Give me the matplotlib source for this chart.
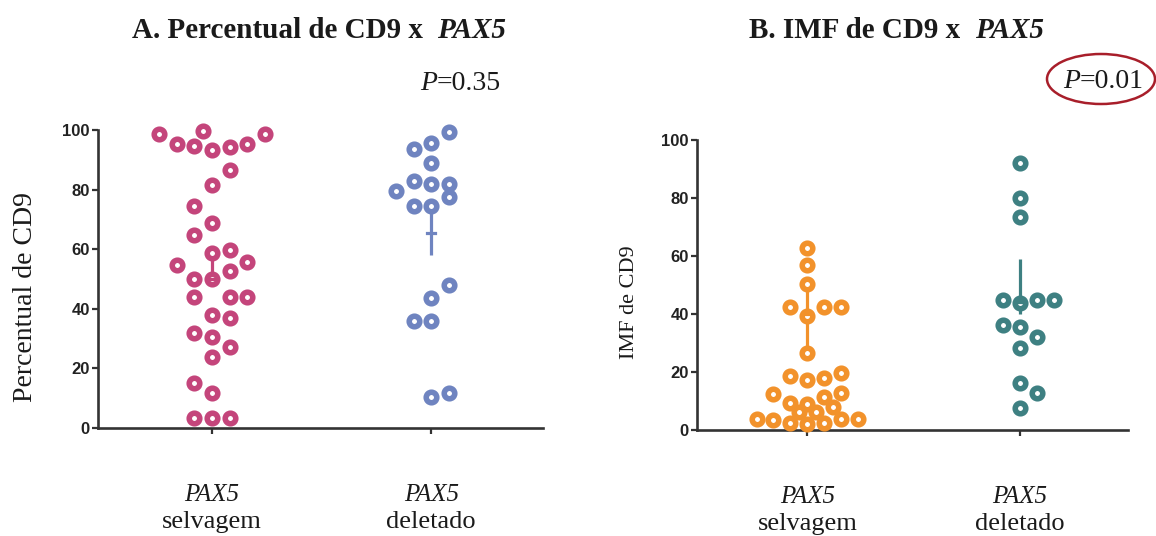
import matplotlib
matplotlib.use("Agg")
import matplotlib.pyplot as plt
from matplotlib.patches import Ellipse

# panel A: percentual de CD9 (value, swarm slot)
pct_wild = [98.7, 99.5, 98.7, 95.3, 94.6, 93.3, 94.4, 95.3, 86.6, 81.5, 74.6, 68.8,
            64.8, 58.8, 59.7, 54.7, 55.8, 52.8, 49.9, 49.9, 43.9, 43.9, 43.9, 37.9,
            36.8, 32.0, 30.6, 23.9, 27.1, 15.2, 11.8, 3.2, 3.2, 3.2]
pct_wild_slot = [-3, -0.5, 3, -2, -1, 0, 1, 2, 1, 0, -1, 0,
                 -1, 0, 1, -2, 2, 1, -1, 0, -1, 1, 2, 0,
                 1, -1, 0, 0, 1, -1, 0, -1, 0, 1]
pct_del = [99.4, 93.5, 95.5, 88.8, 82.9, 81.9, 81.9, 79.6, 77.4, 74.5, 74.5,
           48.0, 43.7, 36.0, 36.0, 10.3, 11.8]
pct_del_slot = [1, -1, 0, 0, -1, 0, 1, -2, 1, -1, 0, 1, 0, -1, 0, 0, 1]

# panel B: IMF de CD9
imf_wild = [62.6, 56.9, 50.3, 42.5, 42.5, 42.5, 39.3, 26.4, 18.6, 17.2, 17.8, 19.5,
            12.4, 12.9, 11.5, 9.2, 9.0, 8.0, 6.3, 6.3, 3.7, 3.4, 2.3, 2.1, 2.3, 3.7, 3.7]
imf_wild_slot = [0, 0, 0, -1, 1, 2, 0, 0, -1, 0, 1, 2,
                 -2, 2, 1, -1, 0, 1.5, -0.5, 0.5, -3, -2, -1, 0, 1, 2, 3]
imf_del = [92.0, 79.9, 73.3, 44.8, 43.7, 44.8, 44.8, 36.2, 35.6, 32.2, 28.2, 16.1, 12.9, 7.5]
imf_del_slot = [0, 0, 0, -1, 0, 1, 2, -1, 0, 1, 0, 0, 1, 0]

# summary bars (centre, low, high)
bar_a = [(50, 48, 59), (65.5, 58, 75)]
bar_b = [(40, 26, 50), (44, 40, 59)]

groups = ["selvagem", "deletado"]
p_a = "0.35"
p_b = "0.01"

pink, blue = "#C4457B", "#6F84C0"
orange, teal = "#F2922B", "#3E8082"
axis_col = "#333333"
txt_col = "#1a1a1a"
step = 0.08

fig = plt.figure(figsize=(11.56, 5.36), dpi=100)
serif = "Liberation Serif"


def draw_panel(ax, series, bars, colors, ylabel, ylabel_size):
    for i, ((vals, slots), (c, lo, hi), col) in enumerate(zip(series, bars, colors)):
        ax.plot([i, i], [lo, hi], color=col, lw=2.3, zorder=2, solid_capstyle="butt")
        ax.plot([i - 0.018, i + 0.018], [c, c], color=col, lw=2.3, zorder=4)
        xs = [i + s * step for s in slots]
        ax.plot(xs, vals, "o", ms=7.6, mew=4.0, mec=col, mfc="white",
                ls="none", zorder=3, clip_on=False)
    ax.set_xlim(-0.52, 1.51)
    ax.set_ylim(0, 100)
    ax.set_yticks(range(0, 101, 20))
    ax.set_xticks([0, 1])
    ax.set_xticklabels([])
    for s in ("top", "right"):
        ax.spines[s].set_visible(False)
    for s in ("left", "bottom"):
        ax.spines[s].set_linewidth(1.9)
        ax.spines[s].set_color(axis_col)
    ax.tick_params(axis="y", length=4.5, width=1.6, color=axis_col, pad=1.5,
                   labelsize=12, labelcolor="#222222")
    ax.tick_params(axis="x", length=4, width=1.6, color=axis_col)
    for lab in ax.get_yticklabels():
        lab.set_fontfamily("Liberation Sans")
        lab.set_fontweight("bold")
    ax.set_ylabel(ylabel, family=serif, fontsize=ylabel_size, color=txt_col)
    ax.yaxis.set_label_coords(-0.135, 0.44)
    for i, g in enumerate(groups):
        ax.annotate("PAX5", xy=(i, 0), xytext=(0, -48), textcoords="offset points",
                    ha="center", va="center", family=serif, style="italic",
                    fontsize=18, color=txt_col)
        ax.annotate(g, xy=(i, 0), xytext=(0, -68), textcoords="offset points",
                    ha="center", va="center", family=serif, fontsize=19, color=txt_col)


ax1 = fig.add_axes([0.0848, 0.2015, 0.385, 0.556])
draw_panel(ax1, [(pct_wild, pct_wild_slot), (pct_del, pct_del_slot)], bar_a,
           [pink, blue], "Percentual de CD9", 20)

ax2 = fig.add_axes([0.603, 0.1978, 0.3728, 0.541])
draw_panel(ax2, [(imf_wild, imf_wild_slot), (imf_del, imf_del_slot)], bar_b,
           [orange, teal], "IMF de CD9", 16)

fig.text(437 / 1156, 1 - 30 / 536, "A. Percentual de CD9 x  ", ha="right", va="center",
         family=serif, weight="bold", fontsize=21, color=txt_col)
fig.text(437 / 1156, 1 - 30 / 536, "PAX5", ha="left", va="center",
         family=serif, weight="bold", style="italic", fontsize=21, color=txt_col)

fig.text(975 / 1156, 1 - 30 / 536, "B. IMF de CD9 x  ", ha="right", va="center",
         family=serif, weight="bold", fontsize=21, color=txt_col)
fig.text(975 / 1156, 1 - 30 / 536, "PAX5", ha="left", va="center",
         family=serif, weight="bold", style="italic", fontsize=21, color=txt_col)

for xs_, yc, p in [(437, 83, p_a), (1080, 81, p_b)]:
    fig.text(xs_ / 1156, 1 - yc / 536, "P", ha="right", va="center",
             family=serif, style="italic", fontsize=20, color=txt_col)
    fig.text(xs_ / 1156, 1 - yc / 536, "=" + p, ha="left", va="center",
             family=serif, fontsize=20, color=txt_col)

fig.patches.append(Ellipse((1101 / 1156, 1 - 79 / 536), 108 / 1156, 50 / 536,
                           transform=fig.transFigure, fill=False,
                           edgecolor="#A81E2A", lw=1.8))

fig.savefig("out.png", dpi=100)
